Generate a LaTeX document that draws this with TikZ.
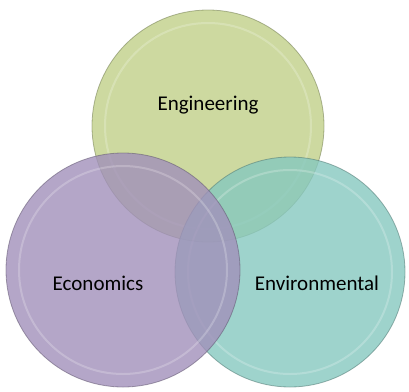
\documentclass[tikz,border=0pt]{standalone}
\usepackage{fontspec}
\setmainfont{Carlito}
\begin{document}
\begin{tikzpicture}[x=1pt,y=-1pt,
  disc/.style={circle, inner sep=0pt, fill opacity=0.8, draw opacity=0.55, line width=0.8pt},
  rim/.style={circle, inner sep=0pt, draw=white, draw opacity=0.22, line width=2pt},
  lab/.style={font=\fontsize{21}{24}\selectfont, text=black}]
\definecolor{engc}{RGB}{192,208,136}
\definecolor{envc}{RGB}{134,200,191}
\definecolor{ecoc}{RGB}{161,144,186}
\useasboundingbox (0,0) rectangle (409,391);
\node[disc, fill=engc, draw=engc!60!black, minimum size=232pt] (eng) at (208,126) {};
\node[rim, minimum size=206pt] (engrim) at (eng.center) {};
\node[disc, fill=envc, draw=envc!60!black, minimum size=230pt] (env) at (290,272) {};
\node[rim, minimum size=204pt] (envrim) at (env.center) {};
\node[disc, fill=ecoc, draw=ecoc!60!black, minimum size=234pt] (eco) at (123,270) {};
\node[rim, minimum size=208pt] (ecorim) at (eco.center) {};
\node[lab] (tEng) at (208,105) {Engineering};
\node[lab] (tEco) at (98,283) {Economics};
\node[lab] (tEnv) at (317,283) {Environmental};
\end{tikzpicture}
\end{document}
